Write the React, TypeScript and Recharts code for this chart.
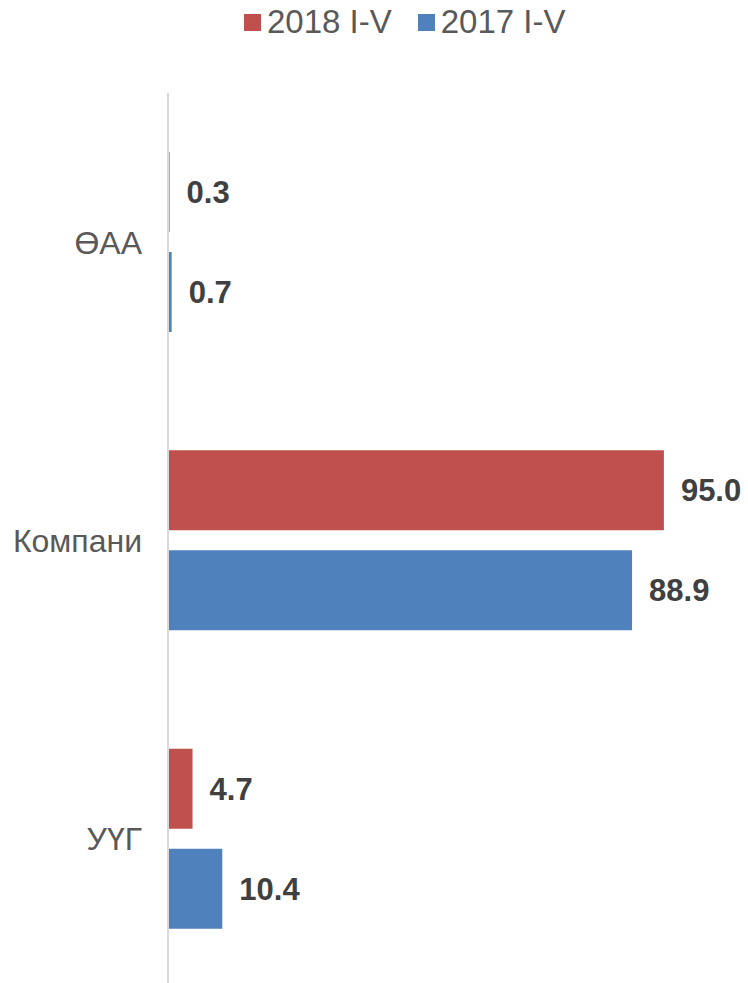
import React from "react";
import { BarChart, Bar, XAxis, YAxis, LabelList } from "recharts";

const categories = ["ӨАА", "Компани", "УҮГ"];
const series2018 = [0.3, 95.0, 4.7];
const series2017 = [0.7, 88.9, 10.4];
const seriesNames = ["2018 I-V", "2017 I-V"];
const colors = ["#C0504D", "#4F81BD"];

const data = categories.map((c, i) => ({ name: c, a: series2018[i], b: series2017[i] }));

const FONT = "'Liberation Sans', Arial, sans-serif";

const LegendBox = () => (
  <div style={{ position: "absolute", top: 3, left: 244, display: "flex", alignItems: "center", fontFamily: FONT, fontSize: 33, color: "#595959", whiteSpace: "nowrap" }}>
    {seriesNames.map((n, i) => (
      <div key={n} style={{ display: "flex", alignItems: "center", marginRight: 26 }}>
        <div style={{ width: 17, height: 17, background: colors[i], marginRight: 6 }} />
        <span>{n}</span>
      </div>
    ))}
  </div>
);

export default function App() {
  return (
    <div style={{ position: "absolute", left: 0, top: 0, width: 748, height: 983, overflow: "hidden", background: "#fff" }}>
      <BarChart
        width={748}
        height={990}
        data={data}
        layout="vertical"
        margin={{ top: 93, right: 58, bottom: 2, left: 0 }}
        barGap={20}
        barSize={80}
      >
        <XAxis type="number" domain={[0, 100]} hide />
        <YAxis
          type="category"
          dataKey="name"
          width={168}
          axisLine={{ stroke: "#D9D9D9", strokeWidth: 2 }}
          tickLine={false}
          tickMargin={20}
          tick={{ fontSize: 32, fill: "#595959", fontFamily: FONT }}
        />
        <Bar dataKey="a" name={seriesNames[0]} fill={colors[0]} isAnimationActive={false}>
          <LabelList
            dataKey="a"
            position="right"
            offset={17}
            formatter={(v: number) => v.toFixed(1)}
            style={{ fontSize: 31, fontWeight: "bold", fill: "#404040", fontFamily: FONT }}
          />
        </Bar>
        <Bar dataKey="b" name={seriesNames[1]} fill={colors[1]} isAnimationActive={false}>
          <LabelList
            dataKey="b"
            position="right"
            offset={17}
            formatter={(v: number) => v.toFixed(1)}
            style={{ fontSize: 31, fontWeight: "bold", fill: "#404040", fontFamily: FONT }}
          />
        </Bar>
      </BarChart>
      <LegendBox />
    </div>
  );
}
